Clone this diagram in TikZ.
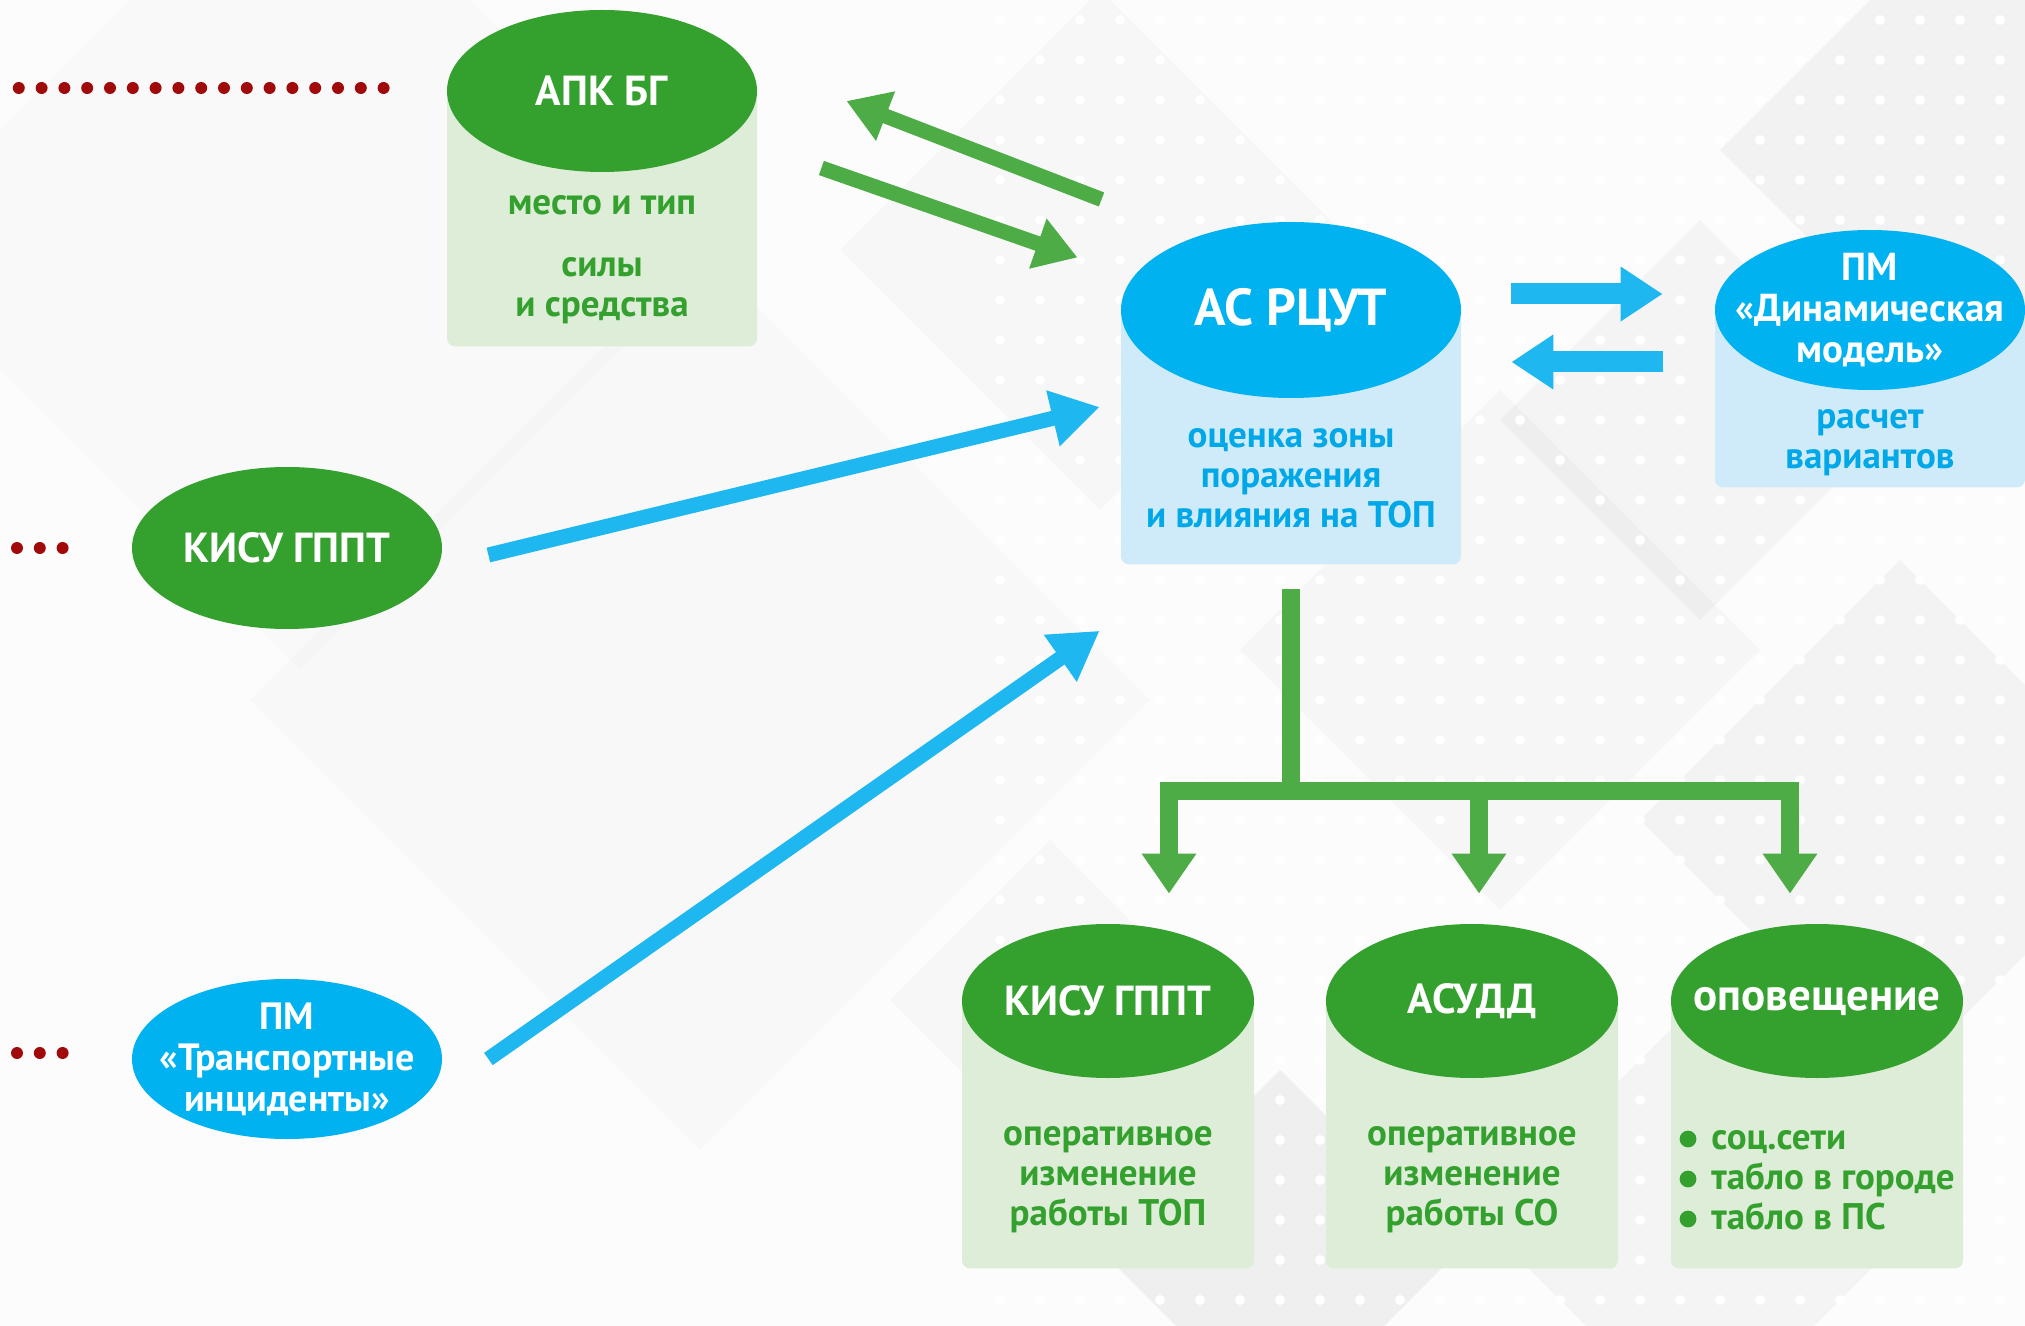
\documentclass[tikz,border=0pt]{standalone}
\usepackage{fontspec}
\setmainfont{PT Sans}
\usepackage{tikz}
\usetikzlibrary{arrows.meta,positioning,shapes.geometric}

\definecolor{hgreen}{RGB}{52,160,46}
\definecolor{agreen}{RGB}{78,172,70}
\definecolor{lgreen}{RGB}{221,237,216}
\definecolor{hblue}{RGB}{0,178,240}
\definecolor{ablue}{RGB}{30,183,240}
\definecolor{lblue}{RGB}{207,235,249}
\definecolor{tblue}{RGB}{0,168,232}
\definecolor{dred}{RGB}{160,10,10}

\begin{document}
\begin{tikzpicture}[x=0.5pt,y=-0.5pt,
  head/.style={ellipse,fill=#1,text=white,inner sep=-20pt,align=center,
    font=\fontsize{21}{20.5}\selectfont\bfseries},
  gbox/.style={fill=lgreen,rounded corners=4pt,inner sep=0pt,anchor=north},
  bbox/.style={fill=lblue,rounded corners=4pt,inner sep=0pt,anchor=north},
  body/.style={align=center,text=#1,font=\fontsize{18.5}{20}\selectfont\bfseries},
  garr/.style={draw=agreen,line width=7.5pt,-{Triangle[length=21pt,width=25pt]}},
  barr/.style={draw=ablue,line width=7.5pt,-{Triangle[length=24pt,width=27pt]}},
  harr/.style={draw=ablue,line width=10.5pt,-{Triangle[length=21pt,width=26pt]}},
  tree/.style={draw=agreen,line width=9pt},
  treearr/.style={tree,-{Triangle[length=20pt,width=26pt]}},
  reddots/.style={draw=dred,line width=6pt,line cap=round,dash pattern=on 0pt off 11.4pt}]

\useasboundingbox (0,0) rectangle (2025,1326);
% background
\begin{scope}
\clip (0,0) rectangle (2025,1326);
\fill[black!1] (0,0) rectangle (2025,1326);
\foreach \cx/\cy/\r/\o in {300/250/420/0.012,700/700/450/0.015,1100/250/260/0.02,
    1950/150/230/0.04,1700/420/200/0.03,1500/650/260/0.025,1900/820/260/0.035,
    1280/1250/180/0.05,1700/1220/220/0.03,1050/1000/160/0.02}
  \fill[black,fill opacity=\o] (\cx,\cy-\r) -- (\cx+\r,\cy) -- (\cx,\cy+\r) -- (\cx-\r,\cy) -- cycle;
\foreach \x in {1000,1040,...,2025}
  \foreach \y in {20,60,...,1326}
    \fill[white] (\x,\y) circle (2.5pt);
\end{scope}

% АПК БГ
\node[gbox,minimum width=155pt,minimum height=127.5pt] (apkbox) at (602,91) {};
\node[head=hgreen,minimum width=155pt,minimum height=81pt] (apk) at (602,91) {АПК БГ};
\node[body=hgreen] (apktxt) at (602,260) {место и тип\\[11pt]силы\\и средства};

% АС РЦУТ
\node[bbox,minimum width=170pt,minimum height=127pt] (rcutbox) at (1291,310) {};
\node[head=hblue,minimum width=170pt,minimum height=88pt,
  font=\fontsize{26}{28}\selectfont\bfseries] (rcut) at (1291,310) {АС РЦУТ};
\node[body=tblue] (rcuttxt) at (1291,478) {оценка зоны\\поражения\\и влияния на ТОП};

% ПМ «Динамическая модель»
\node[bbox,minimum width=155pt,minimum height=88.5pt] (dynbox) at (1870,310) {};
\node[head=hblue,minimum width=155pt,minimum height=80pt,
  font=\fontsize{19.5}{20.5}\selectfont\bfseries] (dyn) at (1870,310)
  {ПМ\\«Динамическая\\модель»};
\node[body=tblue] (dyntxt) at (1870,443) {расчет\\вариантов};

% sources on the left
\node[head=hgreen,minimum width=155pt,minimum height=81pt] (kisu) at (287,548) {КИСУ ГППТ};
\node[head=hblue,minimum width=155pt,minimum height=80pt,
  font=\fontsize{19}{20.5}\selectfont\bfseries] (tinc) at (287,1059)
  {ПМ\\«Транспортные\\инциденты»};

% consumers
\node[gbox,minimum width=146pt,minimum height=133.5pt] (okisubox) at (1108,1001) {};
\node[gbox,minimum width=146pt,minimum height=133.5pt] (asuddbox) at (1472,1001) {};
\node[gbox,minimum width=146pt,minimum height=133.5pt] (opovbox) at (1817,1001) {};
\node[head=hgreen,minimum width=146pt,minimum height=77pt] (okisu) at (1108,1001) {КИСУ ГППТ};
\node[head=hgreen,minimum width=146pt,minimum height=77pt] (asudd) at (1472,1001) {АСУДД};
\node[head=hgreen,minimum width=146pt,minimum height=77pt,
  font=\fontsize{22.5}{24}\selectfont\bfseries] (opov) at (1817,1001) {оповещение};
\node[body=hgreen] (okisutxt) at (1108,1180) {оперативное\\изменение\\работы ТОП};
\node[body=hgreen] (asuddtxt) at (1472,1180) {оперативное\\изменение\\работы СО};
\node[body=hgreen,align=left,anchor=west,inner sep=0pt] (opovtxt) at (1711,1180)
  {соц.сети\\табло в городе\\табло в ПС};
\foreach \dy in {20.5,0.5,-19.5}
  \fill[hgreen] ([xshift=-11.5pt,yshift=\dy pt]opovtxt.west) circle (4.2pt);

% dotted leaders
\draw[reddots] ([xshift=-31.5pt,yshift=1.5pt]apk.west) -- ++(-182.5pt,0);
\draw[reddots] ([xshift=-34.5pt]kisu.west) -- ++(-22.9pt,0);
\draw[reddots] ([xshift=-34.5pt,yshift=3pt]tinc.west) -- ++(-22.9pt,0);

% arrows
\draw[garr] ([xshift=-34.5pt,yshift=24pt]rcut.north west) -- ([xshift=44.5pt,yshift=-5pt]apk.east);
\draw[garr] ([xshift=32pt,yshift=-38.5pt]apk.east) -- ([xshift=-46.5pt,yshift=-5pt]rcut.north west);
\draw[barr] ([xshift=23pt,yshift=-3.5pt]kisu.east) -- ([xshift=-10.5pt,yshift=-48.5pt]rcut.west);
\draw[barr] ([xshift=23pt]tinc.east) -- ([xshift=-10.5pt,yshift=-33pt]rcutbox.south west);
\draw[harr] ([xshift=25pt,yshift=8pt]rcut.east) -- ([xshift=-26pt,yshift=8pt]dyn.west);
\draw[harr] ([xshift=-26pt,yshift=-26pt]dyn.west) -- ([xshift=25pt,yshift=-26pt]rcut.east);

% distribution
\coordinate (hub) at ([yshift=-113pt]rcutbox.south);
\coordinate (t1) at ([xshift=30.5pt,yshift=15pt]okisu.north);
\coordinate (t2) at ([xshift=3.5pt,yshift=15pt]asudd.north);
\coordinate (t3) at ([xshift=-13.5pt,yshift=15pt]opov.north);
\draw[tree] ([yshift=-12pt]rcutbox.south) -- (hub);
\draw[tree,line cap=rect] (t1 |- hub) -- (t3 |- hub);
\foreach \t in {t1,t2,t3}
  \draw[treearr] (\t |- hub) -- (\t);
\end{tikzpicture}
\end{document}
